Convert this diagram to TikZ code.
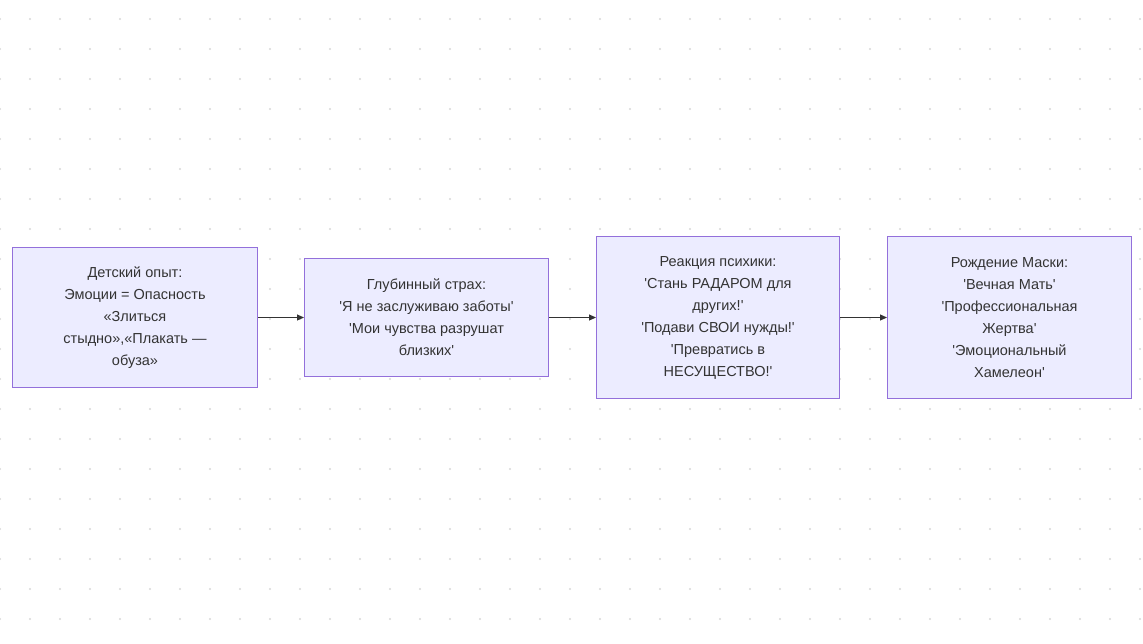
\documentclass[tikz,border=0pt]{standalone}
\usepackage{fontspec}
\defaultfontfeatures[\rmfamily]{}
\setmainfont{Liberation Sans}[Ligatures=ResetAll]
\usetikzlibrary{arrows.meta}
\definecolor{boxfill}{HTML}{ECECFF}
\definecolor{boxline}{HTML}{9370DB}
\definecolor{txt}{HTML}{333333}
\definecolor{dotc}{HTML}{D8D8D8}
\tikzset{
  x=1pt,y=-1pt,
  stage/.style={draw=boxline,fill=boxfill,line width=1pt,text=txt,align=center,
    font=\fontsize{14.5}{22}\selectfont,inner sep=0pt,anchor=north west},
  link/.style={draw=txt,line width=0.9pt,-{Triangle[length=7pt,width=6pt]}}
}
\begin{document}
\begin{tikzpicture}
\useasboundingbox (0,0) rectangle (1143,643);
\fill[white] (0,0) rectangle (1143,643);
\foreach \i in {0,...,38}{
  \foreach \j in {0,...,20}{
    \fill[dotc] (\i*30,19+\j*30) circle (1.2pt);
  }
}
\node[stage,minimum width=245pt,minimum height=140pt] (a) at (12,247)
  {Детский опыт:\\Эмоции = Опасность\\«Злиться\\стыдно»,«Плакать —\\обуза»};
\node[stage,minimum width=244pt,minimum height=118pt] (b) at (304,258)
  {Глубинный страх:\\'Я не заслуживаю заботы'\\'Мои чувства разрушат\\близких'};
\node[stage,minimum width=243pt,minimum height=162pt] (c) at (596,236)
  {Реакция психики:\\'Стань РАДАРОМ для\\других!'\\'Подави СВОИ нужды!'\\'Превратись в\\НЕСУЩЕСТВО!'};
\node[stage,minimum width=244pt,minimum height=162pt] (d) at (887,236)
  {Рождение Маски:\\'Вечная Мать'\\'Профессиональная\\Жертва'\\'Эмоциональный\\Хамелеон'};
\draw[link] (a.east) -- (b.west);
\draw[link] (b.east) -- (c.west);
\draw[link] (c.east) -- (d.west);
\end{tikzpicture}
\end{document}
